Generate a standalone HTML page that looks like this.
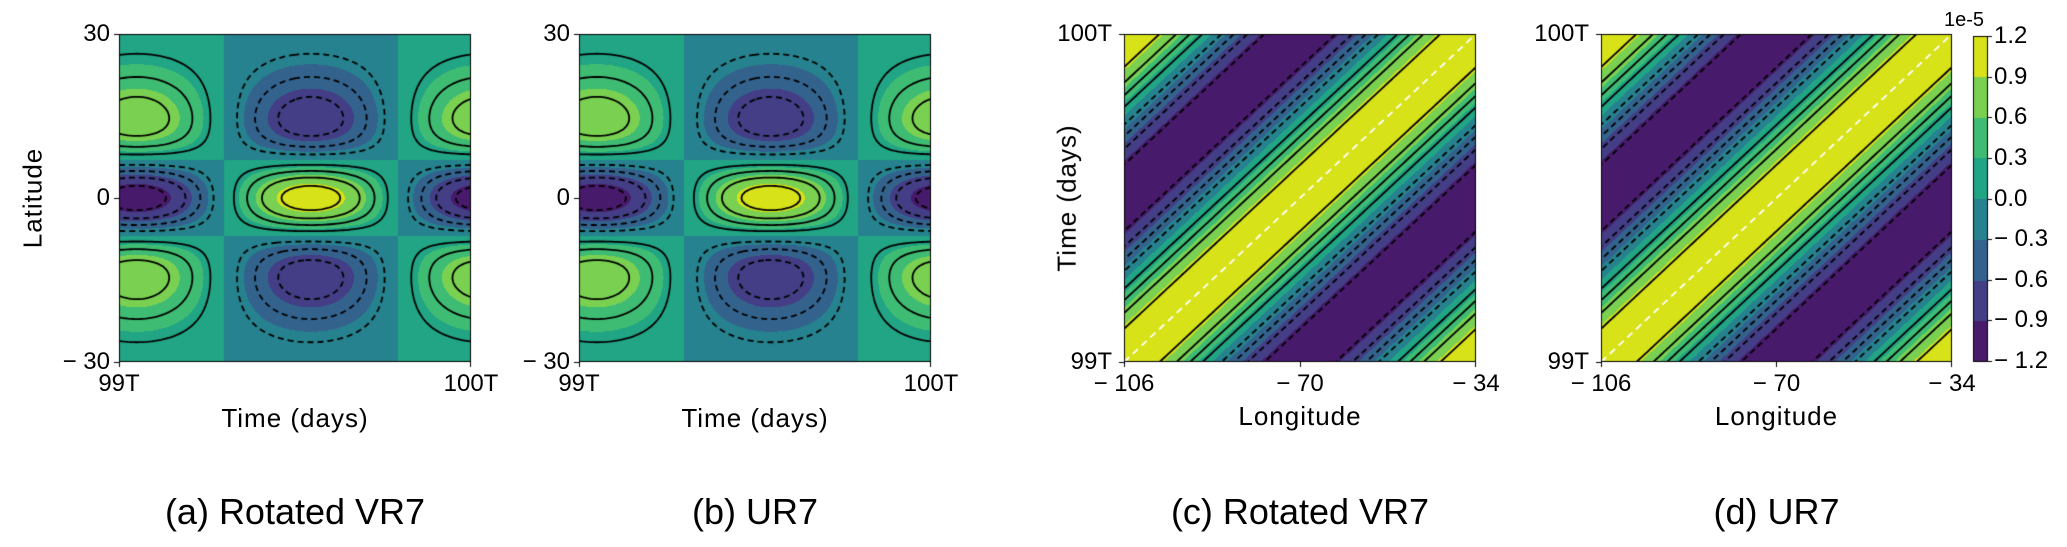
<!DOCTYPE html>
<html><head><meta charset="utf-8">
<style>
body{margin:0;background:#fff;}
#root{position:relative;width:2067px;height:547px;overflow:hidden;background:#fff;font-family:"Liberation Sans",sans-serif;color:#000;}
canvas{position:absolute;left:0;top:0;}
.t{position:absolute;white-space:nowrap;line-height:1;}
.tick{font-size:24px;}
.title{font-size:26px;letter-spacing:1px;}
.cap{font-size:36px;}
</style></head>
<body>
<div id="root">
<canvas id="cv" width="2067" height="547"></canvas>
</div>
<script>
// ---- data ----
const levels=[-1.2,-0.9,-0.6,-0.3,0,0.3,0.6,0.9,1.2];
const bandColors=["#481a6c","#433e85","#33638d","#26828e","#21a585","#3fbc73","#7ad151","#d8e219"];
const lineLevels=[-0.95,-0.7,-0.45,-0.2,0.2,0.45,0.7,0.95];
const latTicks=[30,0,-30];
const timeTicks=["99T","100T"];
const lonTicks=[-106,-70,-34];
const cbTicks=[1.2,0.9,0.6,0.3,0.0,-0.3,-0.6,-0.9,-1.2];
// panel a/b wave parameters (time-of-min fraction, period fraction)
const vrTime=[0.05,0.99];
const urTime=[0.05,0.99];
// latitude structure: [equatorial amp, off-equatorial amp]
const vrLatAmp=[1.5,0.9];
const urLatAmp=[1.5,0.9];
const latCenters=[0,13.2];
const latWidths=[5.5,7.6];
// stripe panels c/d: [amplitude, period in lon fraction]
const vrStripe=[1.18,1.0];
const urStripe=[1.18,1.0];

const root=document.getElementById('root');
const cv=document.getElementById('cv');
const ctx=cv.getContext('2d');

function g(x,c,s){return Math.exp(-(x-c)*(x-c)/(2*s*s));}
function latField(tm,amp){
  return function(u,v){
    const lat=30-60*v;
    const T=-Math.cos(2*Math.PI*(u-tm[0])/tm[1]);
    const P=amp[0]*g(lat,latCenters[0],latWidths[0])-amp[1]*(g(lat,latCenters[1],latWidths[1])+g(lat,-latCenters[1],latWidths[1]));
    return T*P;
  };
}
function stripeField(p){
  return function(u,v){const w=1-v;return p[0]*Math.cos(2*Math.PI*(u-w)/p[1]);};
}
function hex(c){return [parseInt(c.substr(1,2),16),parseInt(c.substr(3,2),16),parseInt(c.substr(5,2),16)];}
const rgb=bandColors.map(hex);
function band(val){let k=Math.floor((val-levels[0])/(levels[1]-levels[0]));return Math.max(0,Math.min(bandColors.length-1,k));}

const img=ctx.createImageData(2067,547);
for(let i=0;i<img.data.length;i+=4){img.data[i]=255;img.data[i+1]=255;img.data[i+2]=255;img.data[i+3]=255;}
function fillPanel(x0,y0,w,h,fn){
  for(let y=y0;y<y0+h;y++)for(let x=x0;x<x0+w;x++){
    const c=rgb[band(fn((x+0.5-x0)/w,(y+0.5-y0)/h))];
    const k=(y*2067+x)*4;img.data[k]=c[0];img.data[k+1]=c[1];img.data[k+2]=c[2];
  }
}
function contour(x0,y0,w,h,fn,L){
  const step=3,nx=Math.ceil(w/step),ny=Math.ceil(h/step);
  const V=[];for(let j=0;j<=ny;j++){V.push([]);for(let i=0;i<=nx;i++)V[j].push(fn(i/nx,j/ny));}
  const px=i=>x0+i*w/nx,py=j=>y0+j*h/ny;
  const pts=new Map(),adj=new Map();
  function link(a,b){if(!adj.has(a))adj.set(a,[]);if(!adj.has(b))adj.set(b,[]);adj.get(a).push(b);adj.get(b).push(a);}
  for(let j=0;j<ny;j++)for(let i=0;i<nx;i++){
    const a=V[j][i],b=V[j][i+1],c=V[j+1][i+1],d=V[j+1][i];
    const e=[];
    function chk(key,va,vb,xa,ya,xb,yb){if((va>=L)!==(vb>=L)){const t=(L-va)/(vb-va);pts.set(key,[xa+(xb-xa)*t,ya+(yb-ya)*t]);e.push(key);}}
    chk('h'+i+','+j,a,b,px(i),py(j),px(i+1),py(j));
    chk('v'+(i+1)+','+j,b,c,px(i+1),py(j),px(i+1),py(j+1));
    chk('h'+i+','+(j+1),d,c,px(i),py(j+1),px(i+1),py(j+1));
    chk('v'+i+','+j,a,d,px(i),py(j),px(i),py(j+1));
    if(e.length>=2)link(e[0],e[1]);if(e.length===4)link(e[2],e[3]);
  }
  const used=new Set(),chains=[];
  function walk(s){const ch=[s];used.add(s);let cur=s;while(true){const n=(adj.get(cur)||[]).find(k=>!used.has(k));if(!n)break;used.add(n);ch.push(n);cur=n;}return ch;}
  for(const [k,l] of adj)if(l.length===1&&!used.has(k))chains.push(walk(k));
  for(const k of adj.keys())if(!used.has(k)){const ch=walk(k);ch.push(k);chains.push(ch);}
  ctx.save();ctx.beginPath();ctx.rect(x0,y0,w,h);ctx.clip();
  ctx.strokeStyle='#000';ctx.lineWidth=1.8;ctx.setLineDash(L<0?[6,4]:[]);
  for(const ch of chains){ctx.beginPath();ch.forEach((k,n)=>{const p=pts.get(k);n?ctx.lineTo(p[0],p[1]):ctx.moveTo(p[0],p[1]);});ctx.stroke();}
  ctx.restore();
}
const panels=[
  {name:'panel-a',x:119,y:34,w:352,h:328,fn:latField(vrTime,vrLatAmp),kind:'lat'},
  {name:'panel-b',x:579,y:34,w:352,h:328,fn:latField(urTime,urLatAmp),kind:'lat'},
  {name:'panel-c',x:1124,y:34,w:352,h:328,fn:stripeField(vrStripe),kind:'lon'},
  {name:'panel-d',x:1601,y:34,w:351,h:328,fn:stripeField(urStripe),kind:'lon'}
];
panels.forEach(p=>fillPanel(p.x,p.y,p.w,p.h,p.fn));
// colorbar fill
const cbX=1973,cbY=36,cbW=15,cbH=326;
for(let y=cbY;y<cbY+cbH;y++)for(let x=cbX;x<cbX+cbW;x++){
  const val=levels[levels.length-1]-(y+0.5-cbY)/cbH*(levels[levels.length-1]-levels[0]);
  const c=rgb[band(val)];const k=(y*2067+x)*4;img.data[k]=c[0];img.data[k+1]=c[1];img.data[k+2]=c[2];
}
ctx.putImageData(img,0,0);
panels.forEach(p=>{
  lineLevels.forEach(L=>contour(p.x,p.y,p.w,p.h,p.fn,L));
  if(p.kind==='lon'){ctx.save();ctx.strokeStyle='#fff';ctx.lineWidth=1.8;ctx.setLineDash([7,5]);ctx.beginPath();ctx.moveTo(p.x,p.y+p.h);ctx.lineTo(p.x+p.w,p.y);ctx.stroke();ctx.restore();}
  ctx.strokeStyle='#000';ctx.lineWidth=1;ctx.setLineDash([]);
  ctx.strokeRect(p.x+0.5,p.y+0.5,p.w-1,p.h-1);
  ctx.beginPath();
  [p.y,p.y+p.h].forEach(y=>{ctx.moveTo(p.x-5,y+0.5);ctx.lineTo(p.x,y+0.5);});
  if(p.kind==='lat'){ctx.moveTo(p.x-5,p.y+p.h/2+0.5);ctx.lineTo(p.x,p.y+p.h/2+0.5);}
  const xs=p.kind==='lat'?[0,1]:[0,0.5,1];
  xs.forEach(f=>{const x=Math.round(p.x+f*(p.w-1))+0.5;ctx.moveTo(x,p.y+p.h);ctx.lineTo(x,p.y+p.h+5);});
  ctx.stroke();
});
ctx.strokeStyle='#000';ctx.lineWidth=1;ctx.strokeRect(cbX+0.5,cbY+0.5,cbW-1,cbH-1);
ctx.beginPath();cbTicks.forEach((v,i)=>{const y=Math.round(cbY+i*(cbH-1)/(cbTicks.length-1))+0.5;ctx.moveTo(cbX+cbW,y);ctx.lineTo(cbX+cbW+4,y);});ctx.stroke();

// ---- text ----
function txt(s,cls,x,y,anchor,name,rot){
  const d=document.createElement('div');d.className='t '+cls;d.textContent=s;
  
  
  root.appendChild(d);
  const r=d.getBoundingClientRect();
  let lx=anchor==='right'?x-r.width:anchor==='left'?x:x-r.width/2;
  d.style.left=lx+'px';d.style.top=(y-r.height/2)+'px';
  if(rot)d.style.transform='rotate(-90deg)';
  return d;
}
function fmt(v){return v<0?'\u2212 '+Math.abs(v):String(v);}
function fmt1(v){const s=Math.abs(v).toFixed(1);return v<0?'\u2212 '+s:s;}
const captions=['(a) Rotated VR7','(b) UR7','(c) Rotated VR7','(d) UR7'];
panels.forEach((p,pi)=>{
  const cx=p.x+p.w/2;
  if(p.kind==='lat'){
    latTicks.forEach((v,i)=>txt(fmt(v),'tick',p.x-9,p.y+i*p.h/2,'right','y-tick-label'));
    timeTicks.forEach((s,i)=>txt(s,'tick',p.x+i*p.w,p.y+p.h+22,'center','x-tick-label'));
    txt('Time (days)','title',cx,p.y+p.h+56,'center','x-axis-title');
  }else{
    txt(timeTicks[1],'tick',p.x-12,p.y,'right','y-tick-label');
    txt(timeTicks[0],'tick',p.x-12,p.y+p.h,'right','y-tick-label');
    lonTicks.forEach((v,i)=>txt(fmt(v),'tick',p.x+i*p.w/2,p.y+p.h+22,'center','x-tick-label'));
    txt('Longitude','title',cx,p.y+p.h+54,'center','x-axis-title');
  }
  txt(captions[pi],'cap',cx,512,'center','caption-'+'abcd'[pi]);
});
txt('Latitude','title',32,198,'center','y-axis-title-latitude',true);
txt('Time (days)','title',1067,198,'center','y-axis-title-time',true);
cbTicks.forEach((v,i)=>txt(fmt1(v),'tick',cbX+cbW+6,cbY+i*(cbH-1)/(cbTicks.length-1),'left','colorbar-tick-label'));
txt('1e-5','tick',1968,22,'center','colorbar-scale-label').style.fontSize='20px';
</script>
</body></html>
